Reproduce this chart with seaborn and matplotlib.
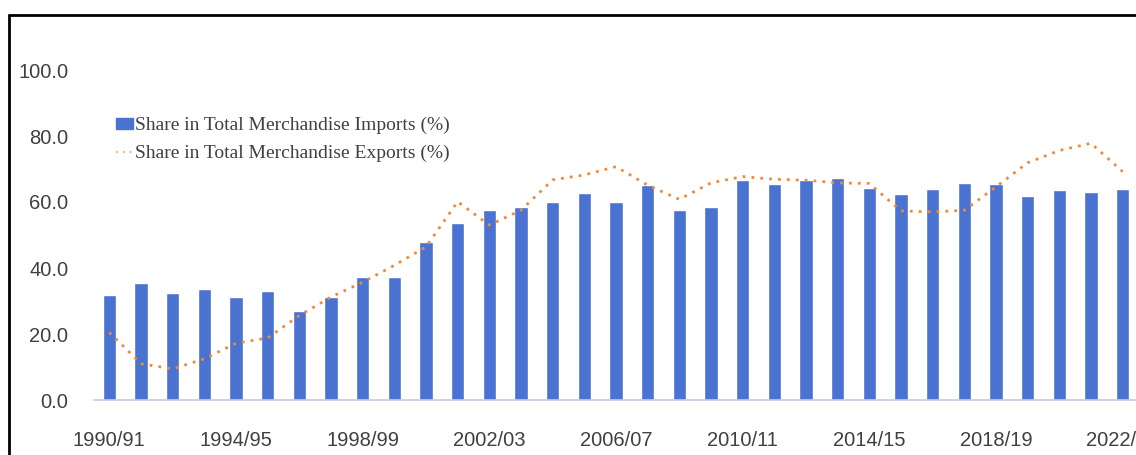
import numpy as np
import pandas as pd
import matplotlib
matplotlib.use("Agg")
import matplotlib.pyplot as plt
from matplotlib.lines import Line2D
import seaborn as sns

years = [f"{y}/{(y + 1) % 100:02d}" for y in range(1990, 2023)]
imports_share = [31.7, 35.5, 32.4, 33.6, 31.2, 33.0, 27.0, 31.2, 37.3, 37.3,
                 47.9, 53.5, 57.5, 58.4, 60.1, 62.6, 60.1, 65.1, 57.7, 58.4,
                 66.6, 65.4, 66.6, 67.4, 64.2, 62.4, 64.0, 65.9, 65.5, 61.8,
                 63.6, 63.1, 64.0]
exports_share = [20.5, 11.0, 9.4, 12.5, 17.2, 18.8, 25.6, 31.2, 35.7, 40.8,
                 46.4, 60.1, 53.0, 57.5, 66.7, 68.2, 70.7, 65.1, 60.8, 65.8,
                 67.7, 66.9, 66.6, 65.8, 65.6, 57.3, 57.0, 57.5, 64.6, 71.9,
                 75.6, 77.8, 69.2]
ytick_values = [0, 20, 40, 60, 80, 100]
imports_label = "Share in Total Merchandise Imports (%)"
exports_label = "Share in Total Merchandise Exports (%)"

df = pd.DataFrame({"year": years, "imports": imports_share, "exports": exports_share})
df["pos"] = np.arange(len(df))

sns.set_theme(style="white")
plt.rcParams["font.family"] = ["Liberation Sans", "DejaVu Sans"]

W, H = 1136, 455
fig = plt.figure(figsize=(W / 100, H / 100), dpi=100)
ax = fig.add_axes([93.5 / W, (H - 400) / H, 1045 / W, 330 / H])

bar_color = "#4a72d0"
line_color = "#ee8a3c"

sns.barplot(data=df, x="year", y="imports", color=bar_color, width=0.42,
            saturation=1, ax=ax)
sns.lineplot(data=df, x="pos", y="exports", color=line_color, linewidth=2.0,
             linestyle=(0, (1, 2.2)), ax=ax, legend=False)
if ax.get_legend() is not None:
    ax.get_legend().remove()

ax.set_xlim(-0.5, len(df) - 0.5)
ax.set_ylim(0, 100)
ax.set_yticks(ytick_values)
ax.set_yticklabels([f"{v:.1f}" for v in ytick_values])
ax.set_xticks(df["pos"][::4])
ax.set_xticklabels(df["year"][::4])
ax.set_xlabel("")
ax.set_ylabel("")

for side in ["top", "right", "left"]:
    ax.spines[side].set_visible(False)
ax.spines["bottom"].set_color("#c3cbdb")
ax.spines["bottom"].set_linewidth(1.2)

ax.tick_params(axis="x", length=0, pad=22, labelsize=14.5, labelcolor="#404040")
ax.tick_params(axis="y", length=0, pad=18, labelsize=14.5, labelcolor="#404040")

handles = [
    plt.Rectangle((0, 0), 1, 1, color=bar_color),
    Line2D([0], [0], color=line_color, linewidth=1.6, linestyle=(0, (1, 2)), alpha=0.55),
]
leg = fig.legend(handles, [imports_label, exports_label],
                 loc="upper left", bbox_to_anchor=(116 / W, 1 - 117 / H),
                 bbox_transform=fig.transFigure, frameon=False,
                 prop={"family": ["Liberation Serif"], "size": 14},
                 handlelength=0.85, handleheight=0.45, handletextpad=0.15,
                 labelspacing=0.55, borderpad=0, borderaxespad=0)
for t in leg.get_texts():
    t.set_color("#404040")

# outer frame: top and left edges
fig.add_artist(Line2D([9 / W, 1.0], [1 - 15 / H, 1 - 15 / H], color="black",
                      linewidth=2, transform=fig.transFigure))
fig.add_artist(Line2D([9 / W, 9 / W], [0.0, 1 - 15 / H], color="black",
                      linewidth=2, transform=fig.transFigure))

fig.savefig("out.png", dpi=100)
